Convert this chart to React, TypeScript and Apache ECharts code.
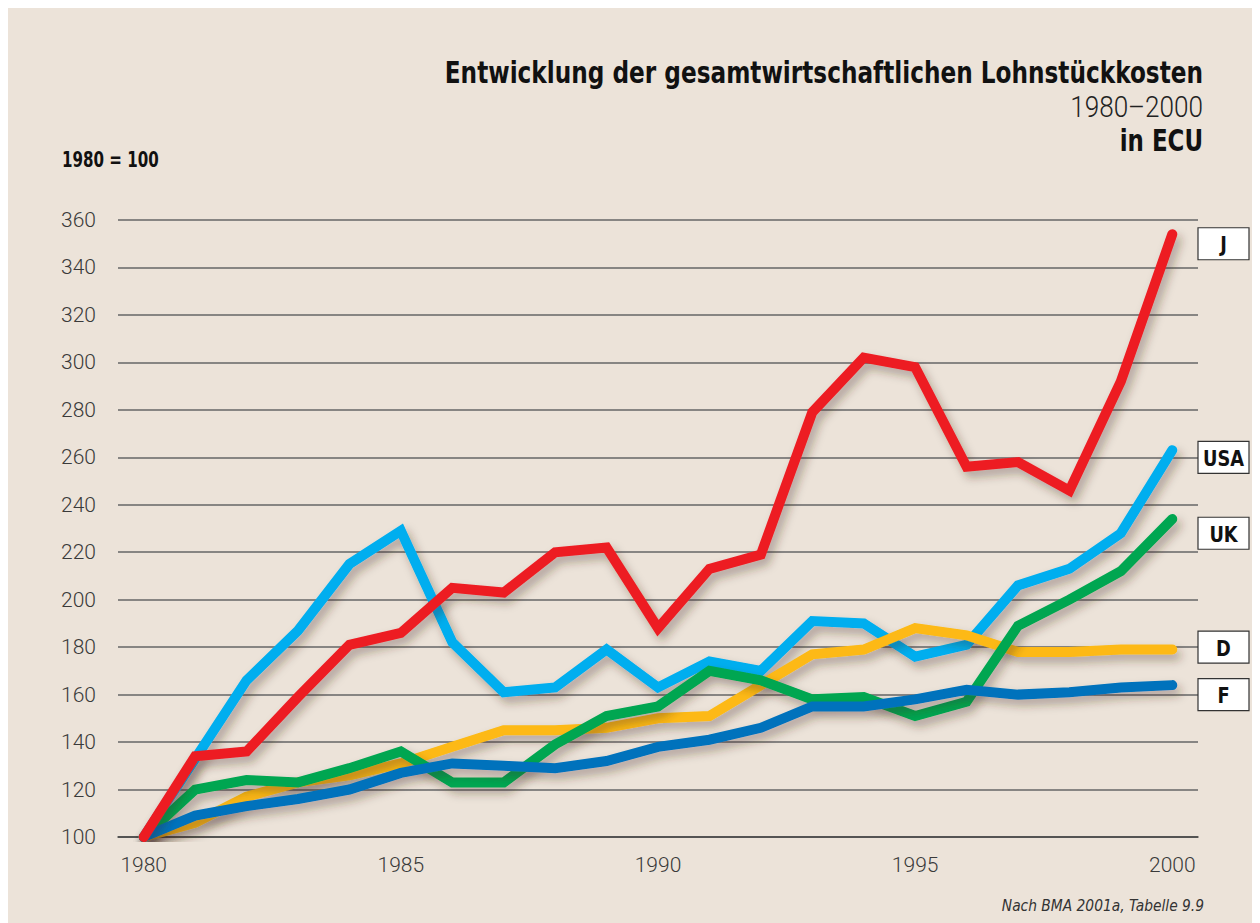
import React, { useEffect, useRef } from "react";
import * as echarts from "echarts";

const years = ["1980","1981","1982","1983","1984","1985","1986","1987","1988","1989","1990","1991","1992","1993","1994","1995","1996","1997","1998","1999","2000"];
const japan = [100,134,136,159,181,186,205,203,220,222,188,213,219,279,302,298,256,258,246,292,354];
const usa = [100,133,166,187,215,229,182,161,163,179,163,174,170,191,190,176,181,206,213,228,263];
const uk = [100,120,124,123,129,136,123,123,139,151,155,170,166,158,159,151,157,189,200,212,234];
const germany = [100,106,117,123,126,131,138,145,145,146,150,151,164,177,179,188,185,178,178,179,179];
const france = [100,109,113,116,120,127,131,130,129,132,138,141,146,155,155,158,162,160,161,163,164];

const endLabels = [
  { name: "J", value: 350 },
  { name: "USA", value: 260 },
  { name: "UK", value: 228 },
  { name: "D", value: 180 },
  { name: "F", value: 160 },
];

const BG = "#ECE3D9";
const NARROW = "'DejaVu Sans Condensed', 'Liberation Sans', sans-serif";
const LIGHT = "Roboto, 'DejaVu Sans Condensed', sans-serif";

function mkSeries(name: string, data: number[], color: string) {
  return {
    name,
    type: "line",
    data,
    symbol: "none",
    lineStyle: {
      color,
      width: 10,
      cap: "round",
      join: "miter",
      shadowColor: "rgba(60,40,30,0.35)",
      shadowBlur: 10,
      shadowOffsetX: 4,
      shadowOffsetY: 6,
    },
    emphasis: { disabled: true },
  };
}

export default function App() {
  const ref = useRef<HTMLDivElement>(null);
  useEffect(() => {
    document.documentElement.style.overflow = "hidden";
    document.body.style.overflow = "hidden";
    const chart = echarts.init(ref.current!, undefined, { renderer: "svg" });
    chart.setOption({
      animation: false,
      backgroundColor: BG,
      grid: { left: 110, right: 62, top: 212, bottom: 86 },
      xAxis: {
        type: "category",
        data: years,
        boundaryGap: true,
        axisLine: { lineStyle: { color: "#444", width: 1.5 } },
        axisTick: { interval: 0, length: 8, lineStyle: { color: "#444", width: 1.5 } },
        axisLabel: {
          interval: 4,
          margin: 17,
          color: "#3a3a3a",
          fontSize: 21,
          fontWeight: 300,
          fontFamily: LIGHT,
        },
        splitLine: { show: false },
      },
      yAxis: {
        type: "value",
        min: 100,
        max: 360,
        interval: 20,
        axisLine: { show: false },
        axisTick: { show: false },
        axisLabel: {
          margin: 22,
          color: "#3a3a3a",
          fontSize: 21,
          fontWeight: 300,
          fontFamily: LIGHT,
        },
        splitLine: { lineStyle: { color: "#666", width: 1.5 } },
      },
      series: [
        mkSeries("USA", usa, "#00AEEF"),
        mkSeries("D", germany, "#FDB913"),
        mkSeries("UK", uk, "#00A651"),
        mkSeries("F", france, "#0072BC"),
        mkSeries("J", japan, "#ED1C24"),
      ],
    });

    const gridRight = 1252 - 62;
    const labelGraphics = endLabels.map((l) => {
      const py = chart.convertToPixel({ yAxisIndex: 0 }, l.value) as number;
      return {
        type: "group",
        x: gridRight,
        y: py - 16,
        children: [
          {
            type: "rect",
            shape: { x: 0, y: 0, width: 51, height: 32 },
            style: { fill: "#ffffff", stroke: "#333", lineWidth: 1.2 },
          },
          {
            type: "text",
            x: 25.5,
            y: 17,
            scaleX: 0.9,
            style: {
              text: l.name,
              fill: "#111",
              font: `bold 22px ${NARROW}`,
              align: "center",
              verticalAlign: "middle",
            },
          },
        ],
      };
    });

    chart.setOption({
      graphic: [
        {
          type: "text",
          x: 1195,
          y: 50,
          scaleX: 0.86,
          style: {
            text: "Entwicklung der gesamtwirtschaftlichen Lohnstückkosten",
            fill: "#111",
            font: `bold 30px ${NARROW}`,
            align: "right",
            verticalAlign: "top",
          },
        },
        {
          type: "text",
          x: 1195,
          y: 84,
          scaleX: 0.87,
          style: {
            text: "1980–2000",
            fill: "#222",
            font: `300 30px ${LIGHT}`,
            align: "right",
            verticalAlign: "top",
          },
        },
        {
          type: "text",
          x: 1195,
          y: 118,
          scaleX: 0.85,
          style: {
            text: "in ECU",
            fill: "#111",
            font: `bold 30px ${NARROW}`,
            align: "right",
            verticalAlign: "top",
          },
        },
        {
          type: "text",
          x: 54,
          y: 141,
          scaleX: 0.8,
          style: {
            text: "1980 = 100",
            fill: "#111",
            font: `bold 21px ${NARROW}`,
            align: "left",
            verticalAlign: "top",
          },
        },
        {
          type: "text",
          x: 1196,
          y: 889,
          scaleX: 0.96,
          style: {
            text: "Nach BMA 2001a, Tabelle 9.9",
            fill: "#333",
            font: `italic 16px ${NARROW}`,
            align: "right",
            verticalAlign: "top",
          },
        },
        ...labelGraphics,
      ],
    });
    return () => chart.dispose();
  }, []);
  return <div ref={ref} style={{ width: 1252, height: 915 }} />;
}
